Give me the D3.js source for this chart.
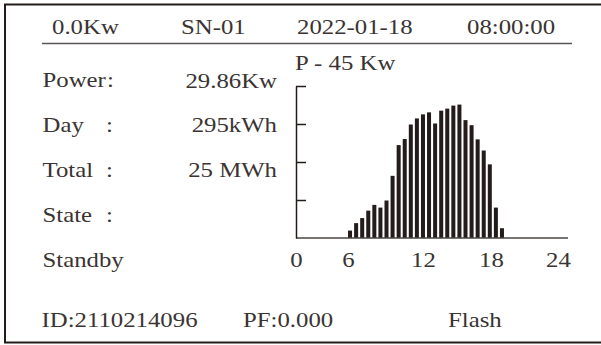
<!DOCTYPE html>
<html>
<head>
<meta charset="utf-8">
<script src="https://cdn.jsdelivr.net/npm/d3@7"></script>
<style>
  body { margin: 0; background: #fff; }
  svg text { font-family: "Liberation Serif", "Times New Roman", serif; font-size: 20px; fill: #3a3432; }
</style>
</head>
<body>
<svg id="panel" width="601" height="345"></svg>
<script>
// screen values
var header = ["0.0Kw", "SN-01", "2022-01-18", "08:00:00"];
var labels = ["Power", "Day", "Total", "State", "Standby"];
var readings = ["29.86Kw", "295kWh", "25 MWh", "", ""];
var footer = ["ID:2110214096", "PF:0.000", "Flash"];
var chartTitle = "P - 45 Kw";
var pMax = 45;
var hourTicks = [0, 6, 12, 18, 24];
var slots = ["06:00", "06:30", "07:00", "07:30", "08:00", "08:30", "09:00", "09:30",
             "10:00", "10:30", "11:00", "11:30", "12:00", "12:30", "13:00", "13:30",
             "14:00", "14:30", "15:00", "15:30", "16:00", "16:30", "17:00", "17:30",
             "18:00", "18:30"];
var power = [2.2, 4.4, 5.9, 8.1, 9.8, 9.0, 11.1, 18.4, 27.5, 29.3, 33.6, 35.4, 36.6,
             37.2, 33.9, 37.7, 38.3, 39.2, 39.5, 34.9, 33.4, 29.2, 25.9, 21.8, 9.0, 2.9];

var ink = "#231c1a",
    stretch = 1.24;   // the lcd font is wider than times

var svg = d3.select("#panel");

var put = (sel, x, y) => sel.attr("transform", "translate(" + x + "," + y + ") scale(" + stretch + ",1)");

// frame, right edge runs off the picture
svg.append("rect")
  .attr("x", 5).attr("y", 4.5)
  .attr("width", 620).attr("height", 338)
  .attr("fill", "none")
  .attr("stroke", ink)
  .attr("stroke-width", 2);

// header row
var headerX = [52, 181, 297, 467];
svg.selectAll("text.head")
  .data(header)
  .enter().append("text")
  .attr("class", "head")
  .text(d => d)
  .each(function(d, i) { put(d3.select(this), headerX[i], 34); });

svg.append("line")
  .attr("x1", 42).attr("x2", 572)
  .attr("y1", 43.5).attr("y2", 43.5)
  .attr("stroke", "#5a5553")
  .attr("stroke-width", 1.6);

// left column
var rowY = d3.scalePoint().domain(labels).range([87, 267]);

svg.selectAll("text.label")
  .data(labels)
  .enter().append("text")
  .attr("class", "label")
  .text(d => d)
  .each(function(d) { put(d3.select(this), 42.5, rowY(d)); });

svg.selectAll("text.colon")
  .data(labels.slice(0, 4))
  .enter().append("text")
  .attr("class", "colon")
  .text(":")
  .each(function(d, i) { put(d3.select(this), i == 0 ? 107 : 106, rowY(d)); });

svg.selectAll("text.value")
  .data(readings)
  .enter().append("text")
  .attr("class", "value")
  .attr("text-anchor", "end")
  .text(d => d)
  .each(function(d, i) { put(d3.select(this), 277, rowY(labels[i]) + (i == 0 ? 1 : 0)); });

// power chart
var x = d3.scaleLinear().domain(hourTicks).range([296, 348, 423, 491, 558]);
var y = d3.scaleLinear().domain([0, pMax]).range([238, 86]);
var band = d3.scaleBand().domain(slots).range([347, 505]).paddingInner(0.34).paddingOuter(0.17);

svg.append("text")
  .text(chartTitle)
  .call(put, 295, 70);

svg.selectAll("rect.bar")
  .data(power)
  .enter().append("rect")
  .attr("class", "bar")
  .attr("x", (d, i) => band(slots[i]))
  .attr("width", band.bandwidth())
  .attr("y", d => y(d))
  .attr("height", d => y(0) - y(d))
  .attr("fill", ink);

svg.append("line")
  .attr("x1", x(0)).attr("x2", 568)
  .attr("y1", y(0)).attr("y2", y(0))
  .attr("stroke", "#4a4442")
  .attr("stroke-width", 1.5);

svg.append("g")
  .attr("transform", "translate(" + x(0) + ",0)")
  .call(d3.axisRight(y)
    .tickValues([pMax / 4, pMax / 2, pMax * 3 / 4, pMax])
    .tickSize(10)
    .tickSizeOuter(0)
    .tickFormat(""))
  .call(g => g.selectAll("path, line").attr("stroke", ink).attr("stroke-width", 1.5));

var xAxis = svg.append("g")
  .attr("transform", "translate(0," + y(0) + ")")
  .call(d3.axisBottom(x).tickValues(hourTicks).tickSize(0).tickPadding(14.5));
xAxis.select(".domain").remove();
xAxis.selectAll("text")
  .attr("font-family", null).attr("font-size", null).attr("fill", null)
  .attr("transform", "scale(" + stretch + ",1)");

// footer row
var footerX = [41.5, 243, 448];
svg.selectAll("text.foot")
  .data(footer)
  .enter().append("text")
  .attr("class", "foot")
  .text(d => d)
  .each(function(d, i) { put(d3.select(this), footerX[i], 327); });
</script>
</body>
</html>
